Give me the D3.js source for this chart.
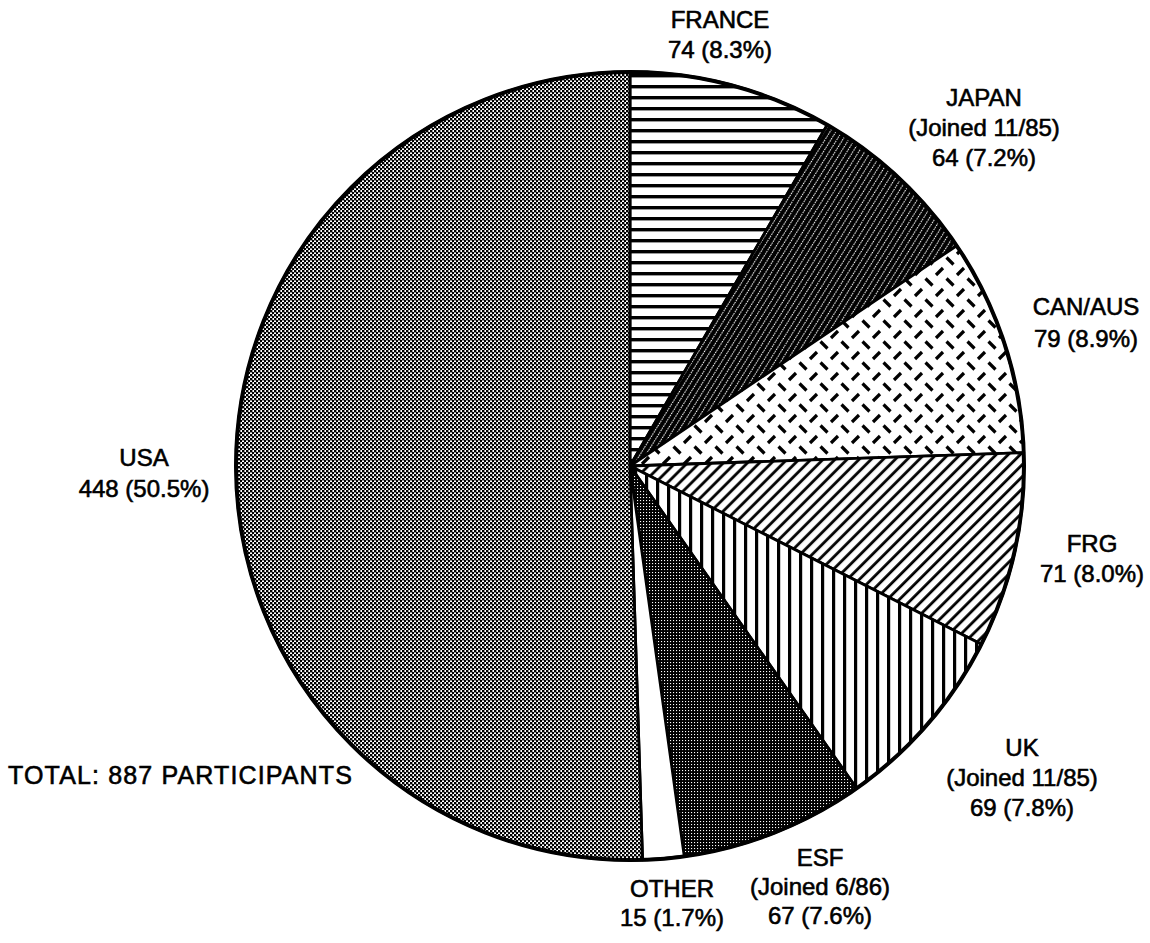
<!DOCTYPE html>
<html>
<head>
<meta charset="utf-8">
<script src="https://cdn.jsdelivr.net/npm/d3@7"></script>
<style>
  html, body { margin: 0; padding: 0; background: #fff; }
  svg { display: block; }
  text { font-family: "Liberation Sans", Arial, Helvetica, sans-serif; fill: #000; }
</style>
</head>
<body>
<svg id="chart" width="1150" height="943"></svg>
<script>
// Participants by country, clockwise from 12 o'clock
const categories = ["FRANCE", "JAPAN", "CAN/AUS", "FRG", "UK", "ESF", "OTHER", "USA"];
const participants = [74, 64, 79, 71, 69, 67, 15, 448];
const percentLabels = ["8.3%", "7.2%", "8.9%", "8.0%", "7.8%", "7.6%", "1.7%", "50.5%"];
const joinedNotes = ["", "(Joined 11/85)", "", "", "(Joined 11/85)", "(Joined 6/86)", "", ""];
const fillPatterns = ["horiz", "darkdiag", "dashes", "diag", "vert", "darkdots", "blank", "checker"];
const totalLabel = "TOTAL: 887 PARTICIPANTS";

const W = 1150, H = 943;
const cx = 630, cy = 466, R = 394;

const svg = d3.select("#chart");
const defs = svg.append("defs");

// ---- hatch / halftone patterns ----
function pattern(id, w, h, transform) {
  const p = defs.append("pattern")
    .attr("id", id).attr("patternUnits", "userSpaceOnUse")
    .attr("width", w).attr("height", h);
  if (transform) p.attr("patternTransform", transform);
  return p;
}

// horizontal rules
let p = pattern("horiz", 11, 11);
p.append("rect").attr("width", 11).attr("height", 11).attr("fill", "#fff");
p.append("rect").attr("y", 4).attr("width", 11).attr("height", 3.4).attr("fill", "#000");

// vertical rules
p = pattern("vert", 11, 11);
p.append("rect").attr("width", 11).attr("height", 11).attr("fill", "#fff");
p.append("rect").attr("x", 4).attr("width", 3.2).attr("height", 11).attr("fill", "#000");

// 45° diagonal rules
p = pattern("diag", 8.5, 8.5, "rotate(45)");
p.append("rect").attr("width", 8.5).attr("height", 8.5).attr("fill", "#fff");
p.append("rect").attr("x", 3).attr("width", 2.8).attr("height", 8.5).attr("fill", "#000");

// black with fine white dotted diagonals
p = pattern("darkdiag", 5, 5, "rotate(32)");
p.append("rect").attr("width", 5).attr("height", 5).attr("fill", "#000");
p.append("line").attr("x1", 2.5).attr("x2", 2.5).attr("y1", 0).attr("y2", 5)
  .attr("stroke", "#fff").attr("stroke-width", 1.1).attr("stroke-dasharray", "1.6,0.9");

// short slanted dashes in alternating rows
p = pattern("dashes", 21, 21);
p.append("rect").attr("width", 21).attr("height", 21).attr("fill", "#fff");
p.append("line").attr("x1", 1.5).attr("y1", 1.5).attr("x2", 8.5).attr("y2", 8.5)
  .attr("stroke", "#000").attr("stroke-width", 3.2);
p.append("line").attr("x1", 12).attr("y1", 19).attr("x2", 19).attr("y2", 12)
  .attr("stroke", "#000").attr("stroke-width", 3.2);

// dark halftone
p = pattern("darkdots", 3, 3);
p.append("rect").attr("width", 3).attr("height", 3).attr("fill", "#000");
p.append("rect").attr("x", 1).attr("y", 1).attr("width", 1.1).attr("height", 1.1).attr("fill", "#fff");

// medium halftone checker
p = pattern("checker", 4, 4);
p.append("rect").attr("width", 4).attr("height", 4).attr("fill", "#fff");
p.append("rect").attr("width", 2.4).attr("height", 2.4).attr("fill", "#000");
p.append("rect").attr("x", 2).attr("y", 2).attr("width", 2.4).attr("height", 2.4).attr("fill", "#000");

// ---- pie ----
const data = categories.map((c, i) => ({
  name: c, value: participants[i], pct: percentLabels[i],
  note: joinedNotes[i], fill: fillPatterns[i]
}));

const pie = d3.pie().sort(null).value(d => d.value).startAngle(0).endAngle(2 * Math.PI);
const arc = d3.arc().innerRadius(0).outerRadius(R);

const g = svg.append("g").attr("transform", `translate(${cx},${cy})`);

g.selectAll("path.slice")
  .data(pie(data))
  .join("path")
  .attr("class", "slice")
  .attr("d", arc)
  .attr("fill", d => d.data.fill === "blank" ? "#fff" : `url(#${d.data.fill})`)
  .attr("stroke", "#000")
  .attr("stroke-width", 2.8)
  .attr("stroke-linejoin", "round");

g.append("circle").attr("r", R).attr("fill", "none")
  .attr("stroke", "#000").attr("stroke-width", 4);

// ---- labels: each line centred on its anchor ----
const labelAnchors = {
  "FRANCE":  { x: 720,  y: 19,  gap: 30 },
  "JAPAN":   { x: 984,  y: 97,  gap: 30 },
  "CAN/AUS": { x: 1086, y: 306, gap: 32 },
  "FRG":     { x: 1092, y: 543, gap: 30 },
  "UK":      { x: 1022, y: 747, gap: 30 },
  "ESF":     { x: 820,  y: 857, gap: 29 },
  "OTHER":   { x: 672,  y: 888, gap: 29 },
  "USA":     { x: 144,  y: 457, gap: 31 }
};

const labels = svg.append("g").attr("class", "labels");
data.forEach(d => {
  const a = labelAnchors[d.name];
  const lines = [d.name];
  if (d.note) lines.push(d.note);
  lines.push(`${d.value} (${d.pct})`);
  lines.forEach((t, i) => {
    labels.append("text")
      .attr("x", a.x).attr("y", a.y + i * a.gap)
      .attr("text-anchor", "middle")
      .attr("dominant-baseline", "central")
      .attr("font-size", 24)
      .attr("stroke", "#000").attr("stroke-width", 0.6)
      .text(t);
  });
});

svg.append("text")
  .attr("x", 8).attr("y", 775)
  .attr("dominant-baseline", "central")
  .attr("font-size", 25)
  .attr("letter-spacing", 1.15)
  .attr("stroke", "#000").attr("stroke-width", 0.6)
  .text(totalLabel);
</script>
</body>
</html>
